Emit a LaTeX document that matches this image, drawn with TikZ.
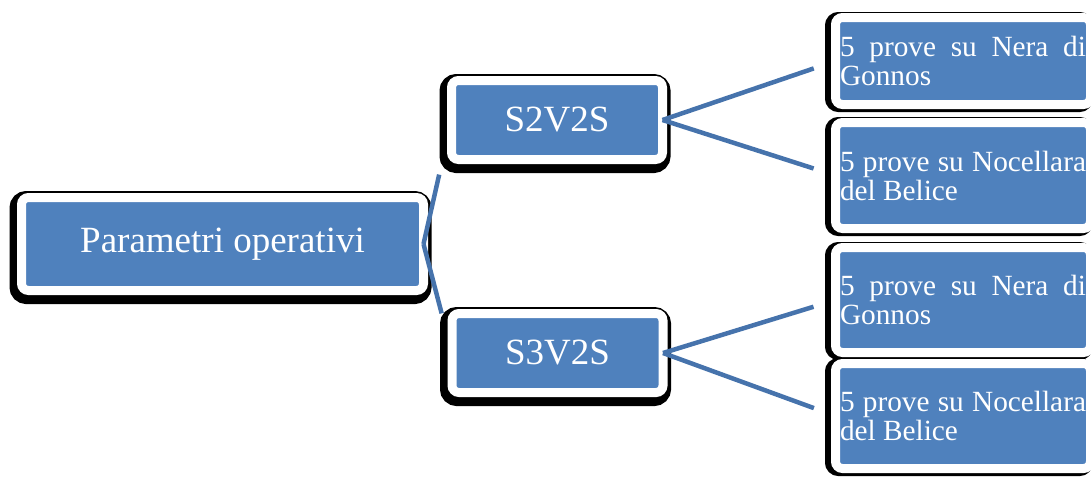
\documentclass[tikz,border=0pt]{standalone}
\usepackage{fontspec}
\setmainfont{Liberation Serif}
\usetikzlibrary{shadows}

\definecolor{smartblue}{RGB}{79,129,189}
\definecolor{linkblue}{RGB}{70,115,172}

\begin{document}
\begin{tikzpicture}[x=1pt, y=-1pt]
\tikzstyle{box}=[rectangle, rounded corners=7pt, fill=smartblue, draw=white, line width=9pt, text=white, inner sep=0pt, outer sep=0pt]
\tikzstyle{bigbox}=[box, align=center, font=\fontsize{37}{44}\selectfont, general shadow={fill=black, draw=black, line width=20pt, shadow xshift=-2pt, shadow yshift=-3.5pt}]
\tikzstyle{leafbox}=[box, text width=246pt, align=justify, minimum width=255pt, font=\fontsize{29.3}{29}\selectfont, general shadow={fill=black, draw=black, line width=13pt, shadow xshift=-4pt, shadow yshift=-1pt}]
\tikzstyle{link}=[draw=linkblue, line width=4.5pt]
\useasboundingbox (0,0) rectangle (1091,477);

\node[bigbox, minimum width=402pt, minimum height=93pt] (root) at (222.5,244) {Parametri operativi};
\node[bigbox, minimum width=211pt, minimum height=79pt] (s2v2s) at (557,120) {S2V2S};
\node[bigbox, minimum width=211pt, minimum height=79pt] (s3v2s) at (557.5,353) {S3V2S};
\node[leafbox, minimum height=87pt] (nera1) at (963,61) {5 prove su Nera di Gonnos};
\node[leafbox, minimum height=106pt] (noce1) at (963,175.5) {5 prove su Nocellara del Belice};
\node[leafbox, minimum height=105pt] (nera2) at (963,300) {5 prove su Nera di Gonnos};
\node[leafbox, minimum height=105pt] (noce2) at (963,416) {5 prove su Nocellara del Belice};

\draw[link, shorten >=56pt] (root.east) -- (s2v2s.west);
\draw[link, shorten >=41pt] (root.east) -- (s3v2s.west);
\foreach \src/\upper/\lower in {s2v2s/nera1/noce1, s3v2s/nera2/noce2}{
  \draw[link, shorten >=23pt] (\src.east) -- (\upper.west);
  \draw[link, shorten >=23pt] (\src.east) -- (\lower.west);
}
\end{tikzpicture}
\end{document}
